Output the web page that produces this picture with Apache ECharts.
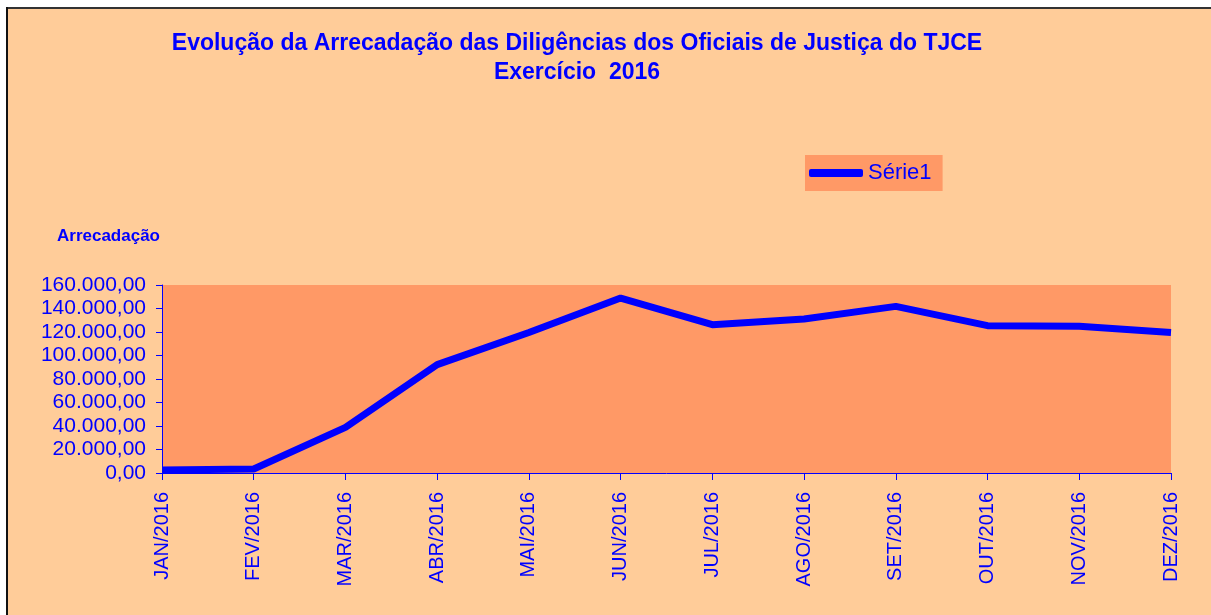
<!DOCTYPE html>
<html>
<head>
<meta charset="utf-8">
<script src="https://cdn.jsdelivr.net/npm/echarts@6/dist/echarts.min.js"></script>
<style>
  html, body { margin: 0; padding: 0; background: #fff; overflow: hidden; }
  #bg { position: absolute; left: 8px; top: 9px; width: 1203px; height: 606px; background: #FFCC99; }
  #linhaTopo { position: absolute; left: 6px; top: 7px; width: 1205px; height: 2px; background: #333; }
  #linhaEsq { position: absolute; left: 6px; top: 7px; width: 2px; height: 608px; background: #111; }
  #main { position: absolute; left: 0; top: 0; width: 1211px; height: 615px; }
</style>
</head>
<body>
<div id="bg"></div>
<div id="linhaTopo"></div>
<div id="linhaEsq"></div>
<div id="main"></div>
<script>
// meses
const meses = ['JAN/2016', 'FEV/2016', 'MAR/2016', 'ABR/2016', 'MAI/2016', 'JUN/2016',
  'JUL/2016', 'AGO/2016', 'SET/2016', 'OUT/2016', 'NOV/2016', 'DEZ/2016'];
// arrecadação mensal
const serie1 = [2500, 3400, 38800, 92200, 119600, 148900, 126200, 131000, 141800, 125400, 124800, 119600];

const azul = '#0000FF';
const fonte = 'Arial, "Liberation Sans", sans-serif';

function formatBR(v) {
  let parts = Number(v).toFixed(2).split('.');
  let inteiro = parts[0].replace(/\B(?=(\d{3})+(?!\d))/g, '.');
  return inteiro + ',' + parts[1];
}

let myChart = echarts.init(document.getElementById('main'));
let option = {
  backgroundColor: 'transparent',
  animation: false,
  textStyle: { fontFamily: fonte },
  graphic: [
    {
      type: 'text', x: 577, y: 44,
      style: {
        text: 'Evolução da Arrecadação das Diligências dos Oficiais de Justiça do TJCE',
        fill: azul, font: 'bold 23px ' + fonte,
        textAlign: 'center', textVerticalAlign: 'middle'
      }
    },
    {
      type: 'text', x: 577, y: 73,
      style: {
        text: 'Exercício  2016',
        fill: azul, font: 'bold 23px ' + fonte,
        textAlign: 'center', textVerticalAlign: 'middle'
      }
    },
    {
      type: 'text', x: 57, y: 236,
      style: {
        text: 'Arrecadação',
        fill: azul, font: 'bold 17px ' + fonte,
        textVerticalAlign: 'middle'
      }
    }
  ],
  legend: {
    left: 805, top: 155,
    backgroundColor: '#FF9966',
    padding: [7, 11, 7, 4],
    itemWidth: 54, itemHeight: 8,
    icon: 'roundRect',
    textStyle: { color: azul, fontSize: 22 },
    data: ['Série1']
  },
  grid: {
    left: 162, right: 40, top: 285, bottom: 142,
    show: true, backgroundColor: '#FF9966', borderWidth: 0
  },
  xAxis: {
    type: 'category',
    boundaryGap: false,
    data: meses,
    axisLine: { lineStyle: { color: azul, width: 1 } },
    axisTick: { show: true, length: 7, lineStyle: { color: azul } },
    axisLabel: { rotate: 90, color: azul, fontSize: 20, margin: 19, interval: 0 },
    splitLine: { show: false }
  },
  yAxis: {
    type: 'value',
    min: 0, max: 160000, interval: 20000,
    axisLine: { show: true, lineStyle: { color: azul, width: 1 } },
    axisTick: { show: true, length: 6, lineStyle: { color: azul } },
    axisLabel: { color: azul, fontSize: 21, margin: 16, formatter: formatBR },
    splitLine: { show: false }
  },
  series: [{
    name: 'Série1',
    type: 'line',
    data: serie1,
    symbol: 'none',
    itemStyle: { color: azul },
    lineStyle: { color: azul, width: 7 }
  }]
};
myChart.setOption(option);
</script>
</body>
</html>
